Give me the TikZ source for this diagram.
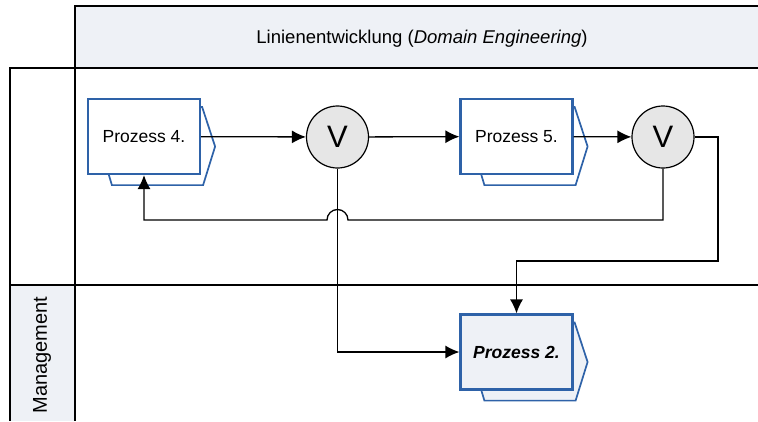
\documentclass[tikz,border=0pt]{standalone}
\usepackage{fontspec}
\setmainfont{Liberation Sans}
\usepackage{xcolor}
\usetikzlibrary{calc, arrows.meta, backgrounds}

\definecolor{rahmenblau}{RGB}{46,98,168}
\definecolor{kopfgrau}{RGB}{238,241,246}
\definecolor{kreisgrau}{RGB}{230,230,230}

\begin{document}
\begin{tikzpicture}[x=1pt, y=-1pt, >={Latex[length=14pt,width=13pt]},
        prozess/.style={draw=rahmenblau, line width=2.2pt, fill=white, minimum width=112pt,
            minimum height=75pt, inner sep=0pt, font=\fontsize{17.5}{20}\selectfont},
        prozessrueck/.style={draw=rahmenblau, line width=1.7pt},
        entscheid/.style={circle, draw, line width=1.2pt, fill=kreisgrau, minimum size=62pt,
            inner sep=0pt, font=\fontsize{31}{33}\selectfont},
        linie/.style={line width=1.3pt},
        rahmen/.style={line width=1.8pt}]
    \useasboundingbox (0,0) rectangle (758,421);

    % 1. Bahnen
    \fill[kopfgrau] (75,6) rectangle (758,68);
    \fill[kopfgrau] (10,285) rectangle (75,421);
    \draw[rahmen] (758,6) -- (75,6) -- (75,421);
    \draw[rahmen] (758,68) -- (10,68) -- (10,421);
    \draw[rahmen] (10,285) -- (758,285);
    \node[font=\fontsize{18.5}{21}\selectfont] (kopf) at (422,39)
        {Linienentwicklung (\textit{Domain Engineering})};
    \node[rotate=90, font=\fontsize{20}{22}\selectfont] (bahn) at (42,355) {Management};

    % 2. Prozesse und Verzweigungen
    \node[prozess] (p4) at (144,136.5) {Prozess 4.};
    \node[entscheid] (v1) at (337.5,137) {V};
    \node[prozess] (p5) at (516.5,136.5) {Prozess 5.};
    \node[entscheid] (v2) at (663,137) {V};
    \node[prozess, fill=kopfgrau, font=\fontsize{17.5}{20}\selectfont\bfseries\itshape] (p2)
        at (516.5,352) {Prozess 2.};

    \begin{pgfonlayer}{background}
        \foreach \p/\f in {p4/white, p5/white, p2/kopfgrau}
            \draw[prozessrueck, fill=\f] ($(\p.north west)+(12,9)$) -- ($(\p.north east)+(1,9)$)
                -- ($(\p.east)+(14,10)$) -- ($(\p.south east)+(2,10)$)
                -- ($(\p.south west)+(25,10)$) -- ($(\p.south west)+(22,0)$) -- cycle;
    \end{pgfonlayer}

    % 3. Verbindungen
    \coordinate (k1) at (718,261);
    \coordinate (s1) at (348,220);
    \draw[linie, ->] (p4) -- (v1);
    \draw[linie, ->] (v1) -- (p5);
    \draw[linie, ->] (p5) -- (v2);
    \draw[linie, ->] (v2.east) -| (k1) -| (p2.north);
    \draw[linie, ->] (v2.south) |- (s1) arc[start angle=0, end angle=-180, radius=10.5]
        -| (p4.south);
    \draw[linie, ->] (v1.south) |- (p2.west);
\end{tikzpicture}
\end{document}
